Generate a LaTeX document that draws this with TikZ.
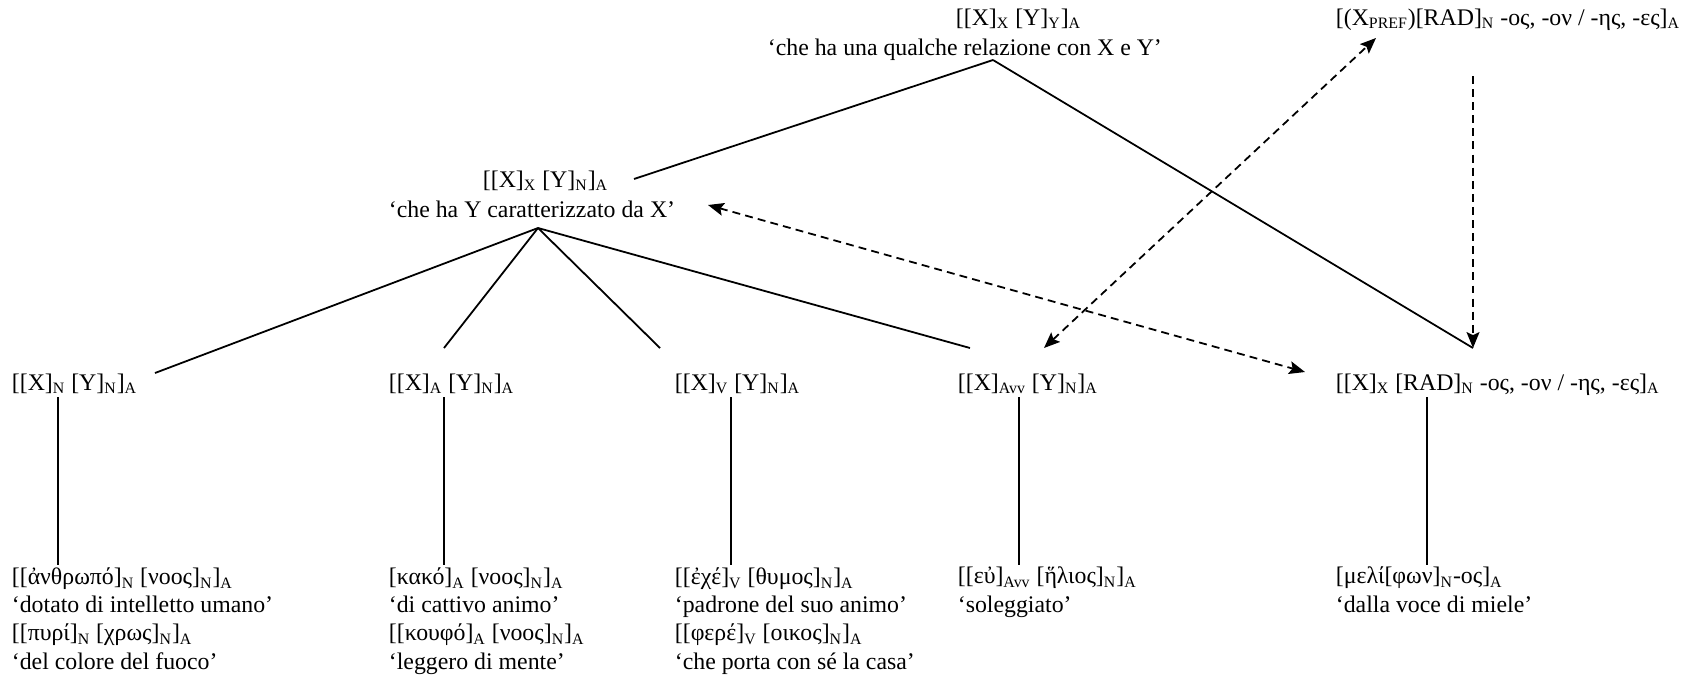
\documentclass[tikz,border=0pt]{standalone}
\usepackage{fontspec}
\setmainfont{Liberation Serif}
\usetikzlibrary{arrows.meta}
\newcommand{\sbs}[1]{\textsubscript{#1}}

\begin{document}
\begin{tikzpicture}[x=0.504pt,y=-0.504pt,line width=0.9pt]

        \useasboundingbox (0,0) rectangle (1705,684);

        \begin{scope}[every node/.style={anchor=base west,inner sep=0pt,align=left,font=\fontsize{12}{14.2}\selectfont}]
          \node (top)    at (955,25)  {[[X]\sbs{X} [Y]\sbs{Y}]\sbs{A}};
          \node (topgl)  at (767,55)  {‘che ha una qualche relazione con X e Y’};
          \node (pref)   at (1335,25) {[(X\sbs{PREF})[RAD]\sbs{N} -ος, -ον / -ης, -ες]\sbs{A}};
          \node (mid)    at (482,187) {[[X]\sbs{X} [Y]\sbs{N}]\sbs{A}};
          \node (midgl)  at (388,217) {‘che ha Y caratterizzato da X’};
          \node (n)      at (11,390)  {[[X]\sbs{N} [Y]\sbs{N}]\sbs{A}};
          \node (a)      at (388,390) {[[X]\sbs{A} [Y]\sbs{N}]\sbs{A}};
          \node (v)      at (674,390) {[[X]\sbs{V} [Y]\sbs{N}]\sbs{A}};
          \node (avv)    at (957,390) {[[X]\sbs{Avv} [Y]\sbs{N}]\sbs{A}};
          \node (rad)    at (1335,390) {[[X]\sbs{X} [RAD]\sbs{N} -ος, -ον / -ης, -ες]\sbs{A}};
          \node (nex)    at (11,669)  {[[ἀνθρωπό]\sbs{N} [νοος]\sbs{N}]\sbs{A}\\{}%
                                       ‘dotato di intelletto umano’\\{}%
                                       [[πυρί]\sbs{N} [χρως]\sbs{N}]\sbs{A}\\{}%
                                       ‘del colore del fuoco’};
          \node (aex)    at (388,669) {[κακό]\sbs{A} [νοος]\sbs{N}]\sbs{A}\\{}%
                                       ‘di cattivo animo’\\{}%
                                       [[κουφό]\sbs{A} [νοος]\sbs{N}]\sbs{A}\\{}%
                                       ‘leggero di mente’};
          \node (vex)    at (674,669) {[[ἐχέ]\sbs{V} [θυμος]\sbs{N}]\sbs{A}\\{}%
                                       ‘padrone del suo animo’\\{}%
                                       [[φερέ]\sbs{V} [οικος]\sbs{N}]\sbs{A}\\{}%
                                       ‘che porta con sé la casa’};
          \node (avvex)  at (957,612) {[[εὐ]\sbs{Avv} [ἥλιος]\sbs{N}]\sbs{A}\\{}%
                                       ‘soleggiato’};
          \node (radex)  at (1335,612) {[μελί[φων]\sbs{N}-ος]\sbs{A}\\{}%
                                       ‘dalla voce di miele’};
        \end{scope}

        \coordinate (topapex) at (993,60);
        \coordinate (midend)  at (634,179);
        \coordinate (radend)  at (1473,348);
        \coordinate (midapex) at (538,228);
        \coordinate (nend)    at (155,373);
        \coordinate (aend)    at (444,348);
        \coordinate (vend)    at (660,348);
        \coordinate (avvend)  at (970,348);
        \coordinate (nup)     at (58,397);
        \coordinate (ndn)     at (58,565);
        \coordinate (aup)     at (444,397);
        \coordinate (adn)     at (444,565);
        \coordinate (vup)     at (731,397);
        \coordinate (vdn)     at (731,565);
        \coordinate (avvup)   at (1019,397);
        \coordinate (avvdn)   at (1019,565);
        \coordinate (radup)   at (1427,397);
        \coordinate (raddn)   at (1427,565);
        \coordinate (prefdn)  at (1473,76);
        \coordinate (avvtip)  at (1044,348);
        \coordinate (preftip) at (1376,38);
        \coordinate (midtip)  at (708,205);
        \coordinate (radtip)  at (1305,372);

        \begin{scope}[every edge/.style={draw}]
          \path (topapex) edge (midend);
          \path (topapex) edge (radend);
          \path (midapex) edge (nend);
          \path (midapex) edge (aend);
          \path (midapex) edge (vend);
          \path (midapex) edge (avvend);
          \path (nup)     edge (ndn);
          \path (aup)     edge (adn);
          \path (vup)     edge (vdn);
          \path (avvup)   edge (avvdn);
          \path (radup)   edge (raddn);
        \end{scope}

        \begin{scope}[every edge/.style={draw,dash pattern=on 4pt off 2.6pt},
                      >={Stealth[length=8pt,width=6.5pt,inset=1.5pt]}]
          \path (prefdn) edge[->]  (radend);
          \path (avvtip) edge[<->] (preftip);
          \path (midtip) edge[<->] (radtip);
        \end{scope}

      \end{tikzpicture}
\end{document}
